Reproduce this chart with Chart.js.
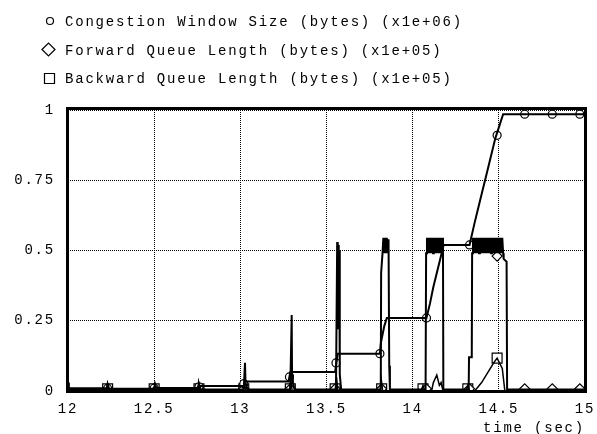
<!DOCTYPE html>
<html><head><meta charset="utf-8">
<script src="https://cdn.jsdelivr.net/npm/chart.js@4.4.1/dist/chart.umd.min.js"></script>
<style>html,body{margin:0;padding:0;background:#fff;overflow:hidden}</style>
</head><body>
<canvas id="c" width="597" height="434"></canvas>
<script>
// ---- data (time in sec, values in the legend's units) ----
const seriesLabels = [
  'Congestion Window Size (bytes) (x1e+06)',
  'Forward Queue Length (bytes) (x1e+05)',
  'Backward Queue Length (bytes) (x1e+05)'
];
const xTickValues = [12, 12.5, 13, 13.5, 14, 14.5, 15];
const xTickLabels = ['12', '12.5', '13', '13.5', '14', '14.5', '15'];
const yTickValues = [0, 0.25, 0.5, 0.75, 1];
const yTickLabels = ['0', '0.25', '0.5', '0.75', '1'];
const xTitle = 'time (sec)';

const cwnd = [
  [12.00,0.01],[12.22,0.01],[12.23,0.008],[12.49,0.008],[12.50,0.011],[12.75,0.011],
  [12.76,0.018],[13.02,0.018],[13.03,0.034],[13.28,0.034],[13.29,0.068],[13.55,0.068],
  [13.565,0.133],[13.81,0.133],[13.815,0.17],[13.825,0.20],[13.835,0.23],[13.845,0.25],
  [13.85,0.26],[14.08,0.26],[14.10,0.31],[14.12,0.37],[14.14,0.42],[14.16,0.47],
  [14.18,0.52],[14.33,0.52],[14.36,0.60],[14.40,0.70],[14.44,0.80],[14.48,0.90],
  [14.525,0.985],[15.00,0.985]
];
const cwndMarks = [
  [12.23,0.009],[12.50,0.01],[12.76,0.015],[13.02,0.026],[13.285,0.05],[13.555,0.10],
  [13.81,0.133],[14.08,0.26],[14.33,0.52],[14.49,0.91],[14.65,0.985],[14.81,0.985],[14.97,0.985]
];
const fwdQueue = [
  [12.000,0.03],[12.005,0.005],[12.225,0.005],[12.230,0.025],[12.240,0.005],
  [12.500,0.005],[12.505,0.025],[12.515,0.005],[12.755,0.005],[12.760,0.025],[12.770,0.005],
  [13.020,0.005],[13.027,0.10],[13.030,0.03],[13.040,0.005],
  [13.290,0.005],[13.298,0.27],[13.300,0.06],[13.305,0.03],[13.315,0.005],
  [13.555,0.005],[13.562,0.53],[13.565,0.22],[13.568,0.52],[13.571,0.25],[13.574,0.50],
  [13.577,0.06],[13.585,0.005],
  [13.815,0.005],[13.817,0.42],[13.825,0.49],[13.830,0.545],[13.835,0.49],[13.840,0.545],
  [13.845,0.49],[13.850,0.545],[13.855,0.49],[13.860,0.54],[13.864,0.09],[13.868,0.005],
  [14.075,0.005],[14.078,0.49],
  [14.083,0.545],[14.088,0.49],[14.093,0.545],[14.098,0.49],[14.103,0.545],[14.108,0.49],
  [14.113,0.545],[14.118,0.49],[14.123,0.545],[14.128,0.49],[14.133,0.545],[14.138,0.49],
  [14.143,0.545],[14.148,0.49],[14.153,0.545],[14.158,0.49],[14.163,0.545],[14.168,0.49],
  [14.173,0.545],[14.176,0.49],[14.178,0.005],
  [14.325,0.005],[14.327,0.12],[14.343,0.12],[14.345,0.49],
  [14.350,0.545],[14.355,0.49],[14.360,0.545],[14.365,0.49],[14.370,0.545],[14.375,0.49],
  [14.380,0.545],[14.385,0.49],[14.390,0.545],[14.395,0.49],[14.400,0.545],[14.405,0.49],
  [14.410,0.545],[14.415,0.49],[14.420,0.545],[14.425,0.49],[14.430,0.545],[14.435,0.49],
  [14.440,0.545],[14.445,0.49],[14.450,0.545],[14.455,0.49],[14.460,0.545],[14.465,0.49],
  [14.470,0.545],[14.475,0.49],[14.480,0.545],[14.485,0.49],[14.490,0.545],[14.495,0.49],
  [14.500,0.545],[14.505,0.49],[14.510,0.545],[14.515,0.49],[14.520,0.545],[14.525,0.49],
  [14.528,0.47],[14.545,0.46],[14.548,0.005],[15.000,0.005]
];
const fwdMarks = [
  [12.23,0.008],[12.50,0.008],[12.76,0.008],[13.02,0.008],[13.29,0.008],[13.55,0.008],
  [13.82,0.008],[14.08,0.008],[14.33,0.008],[14.49,0.48],[14.65,0.008],[14.81,0.008],[14.97,0.008]
];
const bwdQueue = [
  [12.000,0.0],[12.220,0.0],[12.228,0.02],[12.236,0.0],[12.495,0.0],[12.503,0.02],[12.511,0.0],
  [12.750,0.0],[12.758,0.03],[12.766,0.0],[13.015,0.0],[13.023,0.03],[13.031,0.0],
  [13.285,0.0],[13.293,0.04],[13.301,0.0],[13.550,0.0],[13.558,0.05],[13.566,0.0],
  [13.810,0.0],[13.818,0.04],[13.826,0.0],[14.050,0.0],[14.060,0.02],[14.070,0.0],
  [14.110,0.0],[14.120,0.03],[14.140,0.057],[14.155,0.02],[14.165,0.03],[14.176,0.0],
  [14.310,0.0],[14.320,0.02],[14.330,0.0],[14.360,0.0],[14.400,0.03],[14.440,0.07],
  [14.470,0.10],[14.490,0.117],[14.520,0.08],[14.535,0.0],[15.000,0.0]
];
const bwdMarks = [
  [12.23,0.008],[12.50,0.008],[12.76,0.008],[13.02,0.008],[13.29,0.008],[13.55,0.008],
  [13.82,0.008],[14.06,0.008],[14.32,0.008],[14.49,0.117]
];

// ---- chart ----
const FONT = "'Liberation Mono', 'DejaVu Sans Mono', monospace";
const toXY = arr => arr.map(p => ({x: p[0], y: p[1]}));
const lineDs = (label, arr, w) => ({
  type: 'line', label, data: toXY(arr), borderColor: '#000', borderWidth: w,
  pointRadius: 0, tension: 0, fill: false
});
const markDs = (label, arr, style, r) => ({
  type: 'scatter', label, data: toXY(arr), showLine: false, pointStyle: style,
  pointRadius: r, pointBorderColor: '#000', pointBackgroundColor: '#fff',
  pointBorderWidth: 1.2, clip: 0
});

const styles = ['circle', 'rectRot', 'rect'];

const framePlugin = {
  id: 'frame',
  beforeDraw(chart) { chart.ctx.letterSpacing = '1.8px'; },
  afterDatasetsDraw(chart) {
    const {ctx, chartArea: a} = chart;
    ctx.save();
    ctx.strokeStyle = '#000';
    ctx.lineWidth = 3;
    ctx.strokeRect(a.left - 0.5, a.top - 1.5, a.right - a.left + 1, a.bottom - a.top + 2);
    ctx.restore();
  },
  afterDraw(chart) {
    const ctx = chart.ctx;
    ctx.save();
    ctx.letterSpacing = '1.8px';
    ctx.font = '14px ' + FONT;
    ctx.fillStyle = '#000';
    ctx.strokeStyle = '#000';
    ctx.lineWidth = 1.2;
    ctx.textBaseline = 'alphabetic';
    ctx.textAlign = 'left';
    const baselines = [26, 54.5, 83];
    seriesLabels.forEach((lab, i) => {
      const cy = baselines[i] - 5;
      ctx.beginPath();
      if (styles[i] === 'circle') {
        ctx.arc(50, cy, 3.5, 0, Math.PI * 2);
      } else if (styles[i] === 'rectRot') {
        ctx.moveTo(42, cy); ctx.lineTo(48.5, cy - 6.5); ctx.lineTo(55, cy); ctx.lineTo(48.5, cy + 6.5); ctx.closePath();
      } else {
        ctx.rect(44.5, cy - 4.5, 10, 10);
      }
      ctx.stroke();
      ctx.fillText(lab, 65, baselines[i]);
    });
    ctx.restore();
  }
};

new Chart(document.getElementById('c'), {
  data: {
    datasets: [
      lineDs(seriesLabels[0], cwnd, 2),
      lineDs(seriesLabels[1], fwdQueue, 2),
      lineDs(seriesLabels[2], bwdQueue, 1.5),
      markDs(seriesLabels[0], cwndMarks, 'circle', 4),
      markDs(seriesLabels[1], fwdMarks, 'rectRot', 5),
      markDs(seriesLabels[2], bwdMarks, 'rect', 7)
    ]
  },
  options: {
    responsive: false,
    animation: false,
    devicePixelRatio: 1,
    layout: {padding: {top: 110, right: 12, left: 0, bottom: 0}},
    plugins: {legend: {display: false}, tooltip: {enabled: false}},
    scales: {
      x: {
        type: 'linear', min: 12, max: 15,
        afterBuildTicks: s => { s.ticks = xTickValues.map(v => ({value: v})); },
        afterFit: s => { s.height = 43; s.paddingLeft = 0; s.paddingRight = 0; },
        ticks: {
          color: '#000', font: {family: FONT, size: 14}, padding: 10, maxRotation: 0,
          callback: (v, i) => xTickLabels[i]
        },
        grid: {color: '#000', lineWidth: 1, drawTicks: false},
        border: {display: false, dash: [1, 1]},
        title: {
          display: true, text: xTitle, align: 'end', color: '#000',
          font: {family: FONT, size: 14}, padding: {top: 0, bottom: -3}
        }
      },
      y: {
        type: 'linear', min: 0, max: 1,
        afterBuildTicks: s => { s.ticks = yTickValues.map(v => ({value: v})); },
        afterFit: s => { s.width = 68; s.paddingTop = 0; s.paddingBottom = 0; },
        ticks: {
          color: '#000', font: {family: FONT, size: 14}, padding: 13,
          callback: (v, i) => yTickLabels[i]
        },
        grid: {color: '#000', lineWidth: 1, drawTicks: false},
        border: {display: false, dash: [1, 1]}
      }
    }
  },
  plugins: [framePlugin]
});
</script>
</body></html>
